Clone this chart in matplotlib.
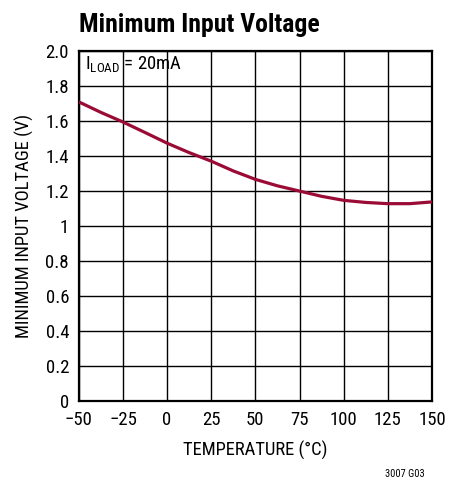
import numpy as np, matplotlib
matplotlib.use("Agg"); import matplotlib.pyplot as plt
plt.rcParams.update({"font.family":["Roboto Condensed","Archivo Narrow","DejaVu Sans"],
                     "mathtext.fontset":"custom","mathtext.rm":"Roboto Condensed",
                     "axes.unicode_minus":True})

# data
temp = [-50, -37.5, -25, -12.5, 0, 12.5, 25, 37.5, 50, 62.5, 75, 87.5, 100, 112.5, 125, 137.5, 150]
vmin = [1.71, 1.65, 1.595, 1.535, 1.474, 1.42, 1.371, 1.315, 1.267, 1.23, 1.20, 1.17, 1.147, 1.135, 1.128, 1.128, 1.138]
xticks = [-50, -25, 0, 25, 50, 75, 100, 125, 150]
xlabels = ["\u221250", "\u221225", "0", "25", "50", "75", "100", "125", "150"]
yticks = [0, 0.2, 0.4, 0.6, 0.8, 1.0, 1.2, 1.4, 1.6, 1.8, 2.0]
ylabels = ["0", "0.2", "0.4", "0.6", "0.8", "1", "1.2", "1.4", "1.6", "1.8", "2.0"]

RED = "#9a0b36"
fig = plt.figure(figsize=(4.61, 4.83), dpi=100)
ax = fig.add_axes([0.171, 0.170, 0.766, 0.724])
ax.plot(temp, vmin, color=RED, lw=2.3, solid_capstyle="butt", zorder=3)
ax.set_xlim(-50, 150); ax.set_ylim(0, 2.0)
ax.set_xticks(xticks); ax.set_xticklabels(xlabels)
ax.set_yticks(yticks); ax.set_yticklabels(ylabels)
ax.grid(True, color="black", lw=1.0)
ax.tick_params(length=0, labelsize=13.5)
ax.tick_params(axis="x", pad=7)
ax.tick_params(axis="y", pad=7)
for s in ax.spines.values():
    s.set_linewidth(1.6)
ax.set_xlabel("TEMPERATURE (\u00b0C)", fontsize=13.3, labelpad=9)
ax.set_ylabel("MINIMUM INPUT VOLTAGE (V)", fontsize=13.3, labelpad=8)
ax.text(-46.5, 1.925, r"$\mathregular{I_{LOAD}}$ = 20mA", fontsize=13.5, va="center", ha="left")
fig.text(0.171, 0.934, "Minimum Input Voltage", fontsize=18.5, fontweight="bold", ha="left", va="baseline")
fig.text(0.922, 0.012, "3007 G03", fontsize=7.5, ha="right", va="baseline")
fig.savefig("out.png", dpi=100)
